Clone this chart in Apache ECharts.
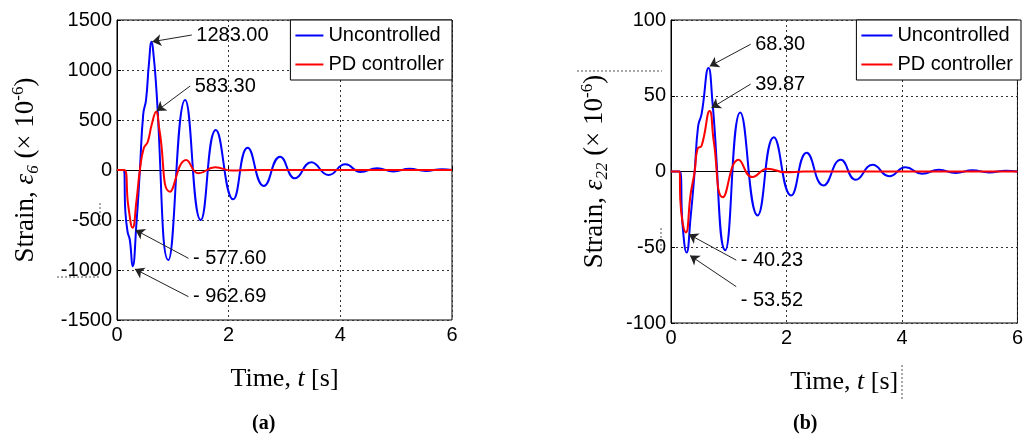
<!DOCTYPE html>
<html>
<head>
<meta charset="UTF-8">
<title>Strain response</title>
<script src="https://cdn.jsdelivr.net/npm/echarts@6/dist/echarts.min.js"></script>
<style>
  html, body { margin: 0; padding: 0; background: #fff; }
</style>
</head>
<body>
<div id="main" style="width:1026px;height:439px;"></div>
<script>
  // (a) strain e6 [t (s), value]
  const uncontrolledA = [
    [0, 0], [0.12, 0], [0.15, -420], [0.19, -620], [0.23, -700], [0.28, -962.69], [0.35, -520],
    [0.41, 0], [0.47, 560], [0.52, 700], [0.57, 1050], [0.62, 1283], [0.66, 1120], [0.7, 850],
    [0.92, -900], [1.22, 700], [1.5, -500], [1.77, 400], [2.08, -293], [2.34, 223], [2.63, -160],
    [2.92, 133], [3.19, -83], [3.48, 77], [3.79, -50], [4.09, 57], [4.36, -20], [4.66, 17],
    [4.95, -15], [5.24, 12], [5.53, -10], [5.82, 8], [6, 0]
  ]
  const pdA = [
    [0, 0], [0.13, 0], [0.2, -350], [0.28, -577.6], [0.35, -300], [0.41, 0], [0.48, 220],
    [0.55, 280], [0.62, 450], [0.7, 583.3], [0.76, 400], [0.95, -217], [1.24, 100], [1.46, -33],
    [1.76, 27], [2.05, -5], [2.4, 0], [6, 0]
  ]
  // (b) strain e22
  const uncontrolledB = [
    [0, 0], [0.15, 0], [0.2, -35], [0.27, -53.52], [0.34, -30], [0.41, 0], [0.47, 30],
    [0.53, 38], [0.65, 68.3], [0.72, 45], [0.94, -52], [1.2, 39], [1.5, -29], [1.78, 22.6],
    [2.08, -15.8], [2.35, 12.3], [2.64, -9.2], [2.94, 7.7], [3.2, -5.5], [3.49, 4.4],
    [3.78, -3.1], [4.06, 2.8], [4.35, -1.5], [4.64, 1.2], [4.93, -1], [5.22, 0.8],
    [5.51, -0.6], [5.8, 0.5], [6, 0]
  ]
  const pdB = [
    [0, 0], [0.15, 0], [0.16, -18], [0.26, -40.23], [0.34, -15], [0.41, 0], [0.46, 15],
    [0.53, 17], [0.67, 39.87], [0.74, 20], [0.9, -17], [1.17, 7.7], [1.41, -3.7],
    [1.67, 1.8], [1.99, -0.5], [2.3, 0], [6, 0]
  ]

  const seriesNames = ['Uncontrolled', 'PD controller']
  const xTicks = { min: 0, max: 6, interval: 2 }
  const yTicksA = { min: -1500, max: 1500, interval: 500 }
  const yTicksB = { min: -100, max: 100, interval: 50 }

  // annotations: text, where the text starts, arrow tail, arrow head
  const notesA = [
    { text: '1283.00', at: [1.34, 1350], from: [1.34, 1350], to: [0.63, 1283] },
    { text: '583.30', at: [1.31, 840], from: [1.31, 840], to: [0.71, 590] },
    { text: '- 577.60', at: [1.28, -883], from: [1.28, -883], to: [0.33, -600] },
    { text: '- 962.69', at: [1.28, -1267], from: [1.28, -1267], to: [0.32, -990] }
  ]
  const notesB = [
    { text: '68.30', at: [1.38, 84], from: [1.38, 84], to: [0.67, 69.5] },
    { text: '39.87', at: [1.38, 57.7], from: [1.38, 57.7], to: [0.7, 42] },
    { text: '- 40.23', at: [1.13, -58.5], from: [1.13, -58.5], to: [0.31, -41.5] },
    { text: '- 53.52', at: [1.13, -85], from: [1.13, -76], to: [0.33, -55.5] }
  ]

  const sans = 'Arial, "Liberation Sans", sans-serif'
  const serif = '"Times New Roman", "Liberation Serif", serif'

  const myChart = echarts.init(document.getElementById('main'))

  function xAxis(idx) {
    return {
      type: 'value', gridIndex: idx, ...xTicks,
      name: 'Time, {i|t} [s]', nameLocation: 'middle', nameGap: 46,
      nameTextStyle: {
        fontFamily: serif, fontSize: 26, color: '#000',
        rich: { i: { fontFamily: serif, fontSize: 26, fontStyle: 'italic', color: '#000' } }
      },
      axisLine: { show: true, lineStyle: { color: '#000', width: 1 } },
      axisTick: { show: true, inside: true, length: 4, lineStyle: { color: '#000' } },
      axisLabel: { fontFamily: sans, fontSize: 20, color: '#000', margin: 5, formatter: v => String(v) },
      splitLine: { show: true, lineStyle: { color: '#333', type: [2, 3], width: 1 } }
    }
  }

  function yAxis(idx, ticks, sub) {
    return {
      type: 'value', gridIndex: idx, ...ticks,
      name: 'Strain, {e|ε}{sub|' + sub + '} (× 10{sup|-6})',
      nameLocation: 'middle', nameRotate: 90, nameGap: idx === 0 ? 75 : 60,
      nameTextStyle: {
        fontFamily: serif, fontSize: 27, color: '#000', lineHeight: 32,
        rich: {
          e: { fontFamily: serif, fontSize: 27, fontStyle: 'italic', color: '#000', lineHeight: 32 },
          sub: { fontFamily: serif, fontSize: 17, fontStyle: 'italic', color: '#000', lineHeight: 32, verticalAlign: 'bottom' },
          sup: { fontFamily: serif, fontSize: 17, color: '#000', lineHeight: 32, verticalAlign: 'top' }
        }
      },
      axisLine: { show: true, lineStyle: { color: '#000', width: 1 } },
      axisTick: { show: true, inside: true, length: 4, lineStyle: { color: '#000' } },
      axisLabel: { fontFamily: sans, fontSize: 20, color: '#000', margin: 5, formatter: v => String(v) },
      splitLine: { show: true, lineStyle: { color: '#333', type: [2, 3], width: 1 } }
    }
  }

  function notes(list) {
    return {
      markLine: {
        silent: true, animation: false,
        symbol: ['none', 'arrow'], symbolSize: 9,
        label: { show: false },
        lineStyle: { color: '#222', width: 1, type: 'solid' },
        itemStyle: { color: '#222' },
        data: list.map(n => [{ coord: n.from }, { coord: n.to }])
      },
      markPoint: {
        silent: true, animation: false,
        symbol: 'circle', symbolSize: 1,
        itemStyle: { color: 'rgba(0,0,0,0)' },
        label: {
          show: true, position: 'right', distance: 4,
          fontFamily: sans, fontSize: 20, color: '#000',
          formatter: p => p.name
        },
        data: list.map(n => ({ name: n.text, coord: n.at }))
      }
    }
  }

  function line(name, data, color, idx, extra) {
    return Object.assign({
      name, type: 'line', data, xAxisIndex: idx, yAxisIndex: idx,
      symbol: 'none', showSymbol: false, smooth: 0.5,
      lineStyle: { color, width: 2 }, itemStyle: { color },
      animation: false
    }, extra || {})
  }

  function legend(right, itemWidth) {
    return {
      data: seriesNames, orient: 'vertical', right, top: 20,
      backgroundColor: '#fff', borderColor: '#000', borderWidth: 1, borderRadius: 0,
      padding: [4, 8, 4, 5], itemGap: 6, itemWidth, itemHeight: 2, icon: 'rect',
      textStyle: { fontFamily: sans, fontSize: 20, color: '#000', lineHeight: 23 },
      selectedMode: false
    }
  }

  const dotted = { stroke: '#555', lineWidth: 1, lineDash: [2, 2] }

  const option = {
    backgroundColor: '#fff',
    grid: [
      { left: 117, top: 20, width: 335, height: 300, show: true, borderColor: '#000', borderWidth: 1, backgroundColor: 'transparent' },
      { left: 671, top: 20, width: 350, height: 303, show: true, borderColor: '#000', borderWidth: 1, backgroundColor: 'transparent' }
    ],
    xAxis: [xAxis(0), xAxis(1)],
    yAxis: [yAxis(0, yTicksA, '6'), yAxis(1, yTicksB, '22')],
    legend: [legend(1026 - 452, 28), legend(1026 - 1021, 31)],
    series: [
      line(seriesNames[0], uncontrolledA, '#0000ff', 0),
      line(seriesNames[1], pdA, '#ff0000', 0, notes(notesA)),
      line(seriesNames[0], uncontrolledB, '#0000ff', 1),
      line(seriesNames[1], pdB, '#ff0000', 1, notes(notesB))
    ],
    title: [
      { text: '(a)', left: 252, top: 414, padding: 0, textStyle: { fontFamily: serif, fontSize: 20, fontWeight: 'bold', color: '#000' } },
      { text: '(b)', left: 793, top: 414, padding: 0, textStyle: { fontFamily: serif, fontSize: 20, fontWeight: 'bold', color: '#000' } }
    ],
    graphic: [
      // scan leftovers visible in the source figure
      { type: 'line', shape: { x1: 577, y1: 71, x2: 662, y2: 71 }, style: dotted, silent: true },
      { type: 'line', shape: { x1: 661, y1: 228, x2: 661, y2: 256 }, style: dotted, silent: true },
      { type: 'line', shape: { x1: 57, y1: 277, x2: 100, y2: 277 }, style: dotted, silent: true },
      { type: 'line', shape: { x1: 100, y1: 203, x2: 100, y2: 226 }, style: dotted, silent: true },
      { type: 'line', shape: { x1: 902, y1: 365, x2: 902, y2: 399 }, style: dotted, silent: true }
    ]
  }

  myChart.setOption(option)
</script>
</body>
</html>
